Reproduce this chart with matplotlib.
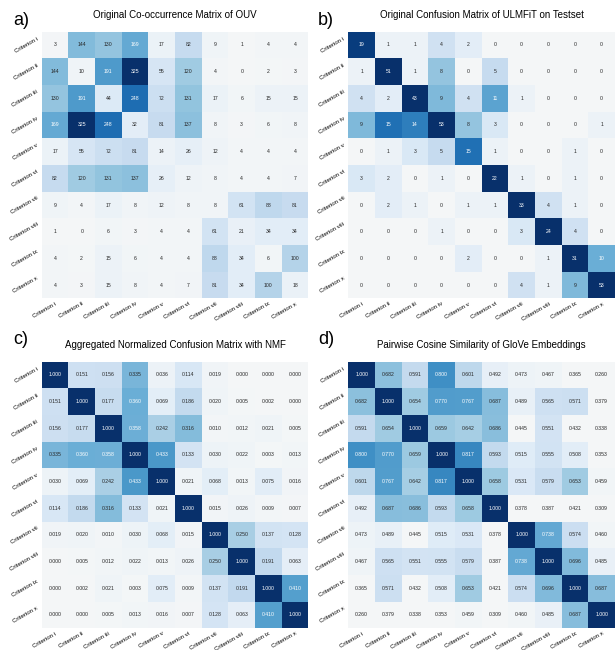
import matplotlib
matplotlib.use('Agg')
import matplotlib.pyplot as plt
from matplotlib.colors import LinearSegmentedColormap
import numpy as np
import seaborn as sns

# Row / column labels shared by all four matrices
CRITERIA = ['Criterion i', 'Criterion ii', 'Criterion iii', 'Criterion iv', 'Criterion v',
            'Criterion vi', 'Criterion vii', 'Criterion viii', 'Criterion ix', 'Criterion x']

# a) co-occurrence counts
cooccurrence = [
    [3, 144, 130, 169, 17, 82, 9, 1, 4, 4],
    [144, 10, 191, 325, 55, 120, 4, 0, 2, 3],
    [130, 191, 44, 248, 72, 131, 17, 6, 15, 15],
    [169, 325, 248, 32, 81, 137, 8, 3, 6, 8],
    [17, 55, 72, 81, 14, 26, 12, 4, 4, 4],
    [82, 120, 131, 137, 26, 12, 8, 4, 4, 7],
    [9, 4, 17, 8, 12, 8, 8, 61, 88, 81],
    [1, 0, 6, 3, 4, 4, 61, 21, 34, 34],
    [4, 2, 15, 6, 4, 4, 88, 34, 6, 100],
    [4, 3, 15, 8, 4, 7, 81, 34, 100, 18],
]

# b) ULMFiT confusion matrix on the test set
confusion_ulmfit = [
    [19, 1, 1, 4, 2, 0, 0, 0, 0, 0],
    [1, 51, 1, 8, 0, 5, 0, 0, 0, 0],
    [4, 2, 43, 9, 4, 11, 1, 0, 0, 0],
    [9, 15, 14, 53, 8, 3, 0, 0, 0, 1],
    [0, 1, 3, 5, 15, 1, 0, 0, 1, 0],
    [3, 2, 0, 1, 0, 22, 1, 0, 1, 0],
    [0, 2, 1, 0, 1, 1, 33, 4, 1, 0],
    [0, 0, 0, 1, 0, 0, 3, 24, 4, 0],
    [0, 0, 0, 0, 2, 0, 0, 1, 31, 10],
    [0, 0, 0, 0, 0, 0, 4, 1, 9, 53],
]

# c) aggregated normalized confusion matrix (NMF)
confusion_nmf = [
    [1.000, 0.151, 0.156, 0.335, 0.036, 0.114, 0.019, 0.000, 0.000, 0.000],
    [0.151, 1.000, 0.177, 0.360, 0.069, 0.186, 0.020, 0.005, 0.002, 0.000],
    [0.156, 0.177, 1.000, 0.358, 0.242, 0.316, 0.010, 0.012, 0.021, 0.005],
    [0.335, 0.360, 0.358, 1.000, 0.433, 0.133, 0.030, 0.022, 0.003, 0.013],
    [0.030, 0.069, 0.242, 0.433, 1.000, 0.021, 0.068, 0.013, 0.075, 0.016],
    [0.114, 0.186, 0.316, 0.133, 0.021, 1.000, 0.015, 0.026, 0.009, 0.007],
    [0.019, 0.020, 0.010, 0.030, 0.068, 0.015, 1.000, 0.250, 0.137, 0.128],
    [0.000, 0.005, 0.012, 0.022, 0.013, 0.026, 0.250, 1.000, 0.191, 0.063],
    [0.000, 0.002, 0.021, 0.003, 0.075, 0.009, 0.137, 0.191, 1.000, 0.410],
    [0.000, 0.000, 0.005, 0.013, 0.016, 0.007, 0.128, 0.063, 0.410, 1.000],
]

# d) pairwise cosine similarity of GloVe embeddings
cosine_glove = [
    [1.000, 0.682, 0.591, 0.800, 0.601, 0.492, 0.473, 0.467, 0.365, 0.260],
    [0.682, 1.000, 0.654, 0.770, 0.767, 0.687, 0.489, 0.565, 0.571, 0.379],
    [0.591, 0.654, 1.000, 0.659, 0.642, 0.686, 0.445, 0.551, 0.432, 0.338],
    [0.800, 0.770, 0.659, 1.000, 0.817, 0.593, 0.515, 0.555, 0.508, 0.353],
    [0.601, 0.767, 0.642, 0.817, 1.000, 0.658, 0.531, 0.579, 0.653, 0.459],
    [0.492, 0.687, 0.686, 0.593, 0.658, 1.000, 0.378, 0.387, 0.421, 0.309],
    [0.473, 0.489, 0.445, 0.515, 0.531, 0.378, 1.000, 0.738, 0.574, 0.460],
    [0.467, 0.565, 0.551, 0.555, 0.579, 0.387, 0.738, 1.000, 0.696, 0.485],
    [0.365, 0.571, 0.432, 0.508, 0.653, 0.421, 0.574, 0.696, 1.000, 0.687],
    [0.260, 0.379, 0.338, 0.353, 0.459, 0.309, 0.460, 0.485, 0.687, 1.000],
]

TITLES = ['Original Co-occurrence Matrix of OUV',
          'Original Confusion Matrix of ULMFiT on Testset',
          'Aggregated Normalized Confusion Matrix with NMF',
          'Pairwise Cosine Similarity of GloVe Embeddings']
PANEL_LABELS = ['a)', 'b)', 'c)', 'd)']


def main():
    plt.rcParams['font.family'] = ['Liberation Sans', 'DejaVu Sans']

    # Blues, but with a slightly greyer low end like the original
    cmap = LinearSegmentedColormap.from_list(
        'blues_grey', ['#f4f6f7', '#deebf7', '#c6dbef', '#9ecae1', '#6baed6',
                       '#4292c6', '#2171b5', '#08519c', '#08306b'])

    fig = plt.figure(figsize=(6.15, 6.5), dpi=100)

    # axes rectangles in figure fractions (left, bottom, width, height)
    w, h = 0.4336, 0.4103
    rects = [(0.0678, 0.541, w, h), (0.5664, 0.541, w, h),
             (0.0678, 0.0334, w, h), (0.5664, 0.0334, w, h)]

    matrices = [np.array(cooccurrence), np.array(confusion_ulmfit),
                np.array(confusion_nmf), np.array(cosine_glove)]
    fmts = ['d', 'd', '.3f', '.3f']
    limits = [(0, 325), (0, 20), (0, 0.72), (0.45, 1.0)]

    for i in range(4):
        ax = fig.add_axes(rects[i])
        sns.heatmap(matrices[i], ax=ax, cmap=cmap, annot=True, fmt=fmts[i],
                    vmin=limits[i][0], vmax=limits[i][1], cbar=False,
                    annot_kws={'size': 3.7},
                    xticklabels=CRITERIA, yticklabels=CRITERIA)
        ax.tick_params(length=0, labelsize=4.4, pad=2)
        plt.setp(ax.get_xticklabels(), rotation=30, ha='right', rotation_mode='anchor')
        plt.setp(ax.get_yticklabels(), rotation=30, ha='right')
        ax.set_title(TITLES[i], fontsize=7, pad=9.5)

        # panel letter in the upper-left corner of each quadrant
        x0 = 0.021 if i % 2 == 0 else 0.517
        y0 = 0.968 if i < 2 else 0.478
        fig.text(x0, y0, PANEL_LABELS[i], fontsize=13, va='center', ha='left')

    fig.savefig('out.png', dpi=100)
    plt.close(fig)


if __name__ == "__main__":
    main()
